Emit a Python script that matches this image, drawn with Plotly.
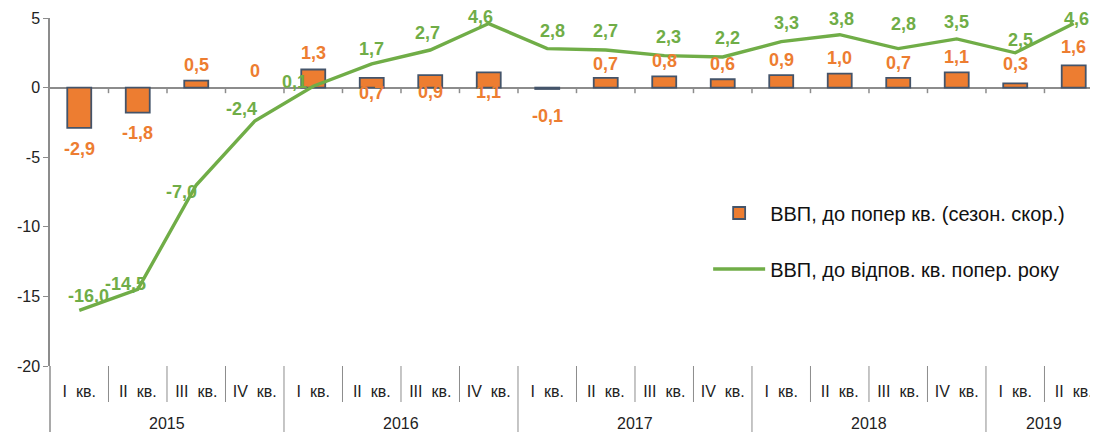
import plotly.graph_objects as go

years = ["2015"] * 4 + ["2016"] * 4 + ["2017"] * 4 + ["2018"] * 4 + ["2019"] * 2
quarters = ["I", "II", "III", "IV"] * 4 + ["I", "II"]
qoq_values = [-2.9, -1.8, 0.5, 0, 1.3, 0.7, 0.9, 1.1, -0.1, 0.7, 0.8, 0.6, 0.9, 1.0, 0.7, 1.1, 0.3, 1.6]
yoy_values = [-16.0, -14.5, -7.0, -2.4, 0.1, 1.7, 2.7, 4.6, 2.8, 2.7, 2.3, 2.2, 3.3, 3.8, 2.8, 3.5, 2.5, 4.6]
bar_name = "ВВП, до попер кв. (сезон. скор.)"
line_name = "ВВП, до відпов. кв. попер. року"
y_ticks = [5, 0, -5, -10, -15, -20]

# label offsets (style, px)
bar_lbl_shift = [-21, -20, 16, 17, 17, -15, -17, -20, -27, 14, 15, 15, 15, 16, 15, 15, 19, 18]
line_lbl_dx = [9, -12, -15, -13, -19, 0, -3, -8, 5, 0, 4, 5, 5, 2, 5, 0, 5, 3]
line_lbl_dy = [14, 5, -7, 12, 4, 15, 17, 7, 18, 19, 19, 19, 19, 16, 25, 17, 13, 5]

ORANGE = "#ED7D31"
GREEN = "#70AD47"
GRAY = "#8c8c8c"
FONT = "Liberation Sans, Arial, sans-serif"

n = len(qoq_values)
xi = list(range(n))
qlabels = [q + "\u00a0\u00a0кв." for q in quarters]


def fmt(v):
    if v == 0:
        return "0"
    return f"{v:.1f}".replace(".", ",")


fig = go.Figure()
fig.add_trace(go.Bar(
    x=xi, y=qoq_values, name=bar_name,
    marker=dict(color=ORANGE,
                line=dict(color="#44546A", width=[0 if v == 0 else 1.8 for v in qoq_values])),
    width=0.41, legend="legend", hoverinfo="skip",
))
fig.add_trace(go.Scatter(
    x=xi, y=yoy_values, name=line_name, mode="lines",
    line=dict(color=GREEN, width=3.4), legend="legend2", hoverinfo="skip",
))

plot_h = 348.0
ann = []
for i, v in enumerate(qoq_values):
    ann.append(dict(x=xi[i], y=v, xref="x", yref="y", text=fmt(v),
                    showarrow=False, yshift=bar_lbl_shift[i], xanchor="center", yanchor="middle",
                    font=dict(family=FONT, size=18, color=ORANGE, weight="bold")))
for i, v in enumerate(yoy_values):
    ann.append(dict(x=xi[i], y=v, xref="x", yref="y", text=fmt(v),
                    showarrow=False, xshift=line_lbl_dx[i], yshift=line_lbl_dy[i],
                    xanchor="center", yanchor="middle",
                    font=dict(family=FONT, size=18, color=GREEN, weight="bold")))

# year group labels
groups = []
for i, yname in enumerate(years):
    if not groups or groups[-1][0] != yname:
        groups.append([yname, i, i])
    else:
        groups[-1][2] = i
for yname, a, b in groups:
    ann.append(dict(x=(a + b) / 2, y=-(423 - 366) / plot_h, xref="x", yref="paper", text=yname,
                    showarrow=False, xanchor="center", yanchor="middle",
                    font=dict(family=FONT, size=16, color="#222")))

r0, r1 = -0.5, 17.415
shapes = []
for k in range(1, n):
    xb = k - 0.5
    shapes.append(dict(type="line", xref="x", yref="y", x0=xb, x1=xb, y0=0, y1=-0.4,
                       line=dict(color=GRAY, width=1.5)))
    fx = (xb - r0) / (r1 - r0)
    is_group = years[k] != years[k - 1]
    shapes.append(dict(type="line", xref="x domain", yref="paper", x0=fx, x1=fx, y0=0,
                       y1=-(70 if is_group else 36) / plot_h,
                       line=dict(color=GRAY, width=1)))
shapes.append(dict(type="line", xref="paper", yref="paper", x0=0, x1=0, y0=0, y1=-70 / plot_h,
                   line=dict(color=GRAY, width=1.5)))

fig.update_layout(
    width=1098, height=432,
    margin=dict(l=42, r=8, t=10, b=74),
    paper_bgcolor="white", plot_bgcolor="white",
    font=dict(family=FONT, size=16, color="#222"),
    barmode="overlay",
    annotations=ann,
    shapes=shapes,
    showlegend=True,
    legend=dict(x=0.628, y=(366 - 213) / plot_h, xanchor="left", yanchor="middle",
                bgcolor="rgba(0,0,0,0)", font=dict(size=20, color="#111"), itemwidth=52),
    legend2=dict(x=0.628, y=(366 - 269) / plot_h, xanchor="left", yanchor="middle",
                 bgcolor="rgba(0,0,0,0)", font=dict(size=20, color="#111"), itemwidth=52),
)
fig.update_xaxes(
    range=[r0, r1], tickvals=xi, ticktext=qlabels, showgrid=False, zeroline=False,
    showline=False, ticks="outside", ticklen=11, tickcolor="rgba(0,0,0,0)",
    tickfont=dict(size=16, color="#222"), automargin=False,
)
fig.update_yaxes(
    range=[-20, 5], tickvals=y_ticks, ticktext=[str(t) for t in y_ticks],
    showgrid=False, zeroline=True, zerolinecolor=GRAY, zerolinewidth=2,
    showline=True, linecolor=GRAY, linewidth=1.5,
    ticks="outside", ticklen=5, tickcolor=GRAY,
    tickfont=dict(size=16, color="#222"), automargin=False,
)

fig.write_html("out.html")
